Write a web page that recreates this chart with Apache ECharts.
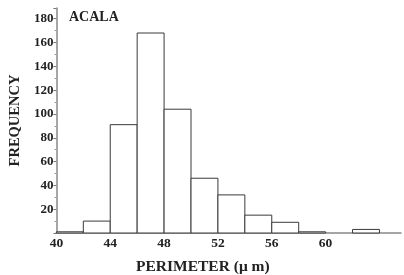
<!DOCTYPE html>
<html>
<head>
<meta charset="utf-8">
<script src="https://cdn.jsdelivr.net/npm/echarts@6/dist/echarts.min.js"></script>
<style>
  html, body { margin: 0; padding: 0; background: #fff; }
  #chart { width: 404px; height: 275px; }
</style>
</head>
<body>
<div id="chart"></div>
<script>
// histogram bins (perimeter, um), each 2 wide
const binStart = [40, 42, 44, 46, 48, 50, 52, 54, 56, 58, 60, 62]
const binWidth = 2
const frequency = [1, 10, 91, 168, 104, 46, 32, 15, 9, 1, 0, 3]
const xTicks = [40, 44, 48, 52, 56, 60]

const serif = '"Liberation Serif", "DejaVu Serif", serif'
const ink = '#3a3a3a'

const chart = echarts.init(document.getElementById('chart'))

chart.setOption({
  animation: false,
  title: [{
    text: 'ACALA',
    left: 64,
    top: 5,
    textStyle: { fontFamily: serif, fontWeight: 'bold', fontSize: 14, color: '#222' }
  }, {
    text: 'PERIMETER (μ m)',
    left: 131,
    top: 254,
    textStyle: { fontFamily: serif, fontWeight: 'bold', fontSize: 15.5, color: '#222' }
  }],
  grid: {
    left: 52,
    right: 1,
    top: 8,
    bottom: 42
  },
  xAxis: {
    type: 'value',
    min: 40,
    max: 65.6,
    interval: 4,
    axisLine: { lineStyle: { color: '#888', width: 1.5 } },
    axisTick: { show: false },
    splitLine: { show: false },
    axisLabel: {
      margin: 4,
      fontFamily: serif,
      fontWeight: 'bold',
      fontSize: 13.5,
      color: '#222',
      formatter: function(v) {
        return xTicks.indexOf(v) >= 0 ? String(v) : ''
      }
    }
  },
  yAxis: {
    type: 'value',
    min: 0,
    max: 189,
    interval: 20,
    name: 'FREQUENCY',
    nameLocation: 'middle',
    nameRotate: 90,
    nameGap: 30,
    nameTextStyle: { fontFamily: serif, fontWeight: 'bold', fontSize: 14.5, color: '#222' },
    axisLine: { show: true, lineStyle: { color: '#888', width: 1.5 } },
    axisTick: { show: true, inside: false, length: 3, lineStyle: { color: '#777' } },
    minorTick: { show: true, splitNumber: 2, length: 2, lineStyle: { color: '#999' } },
    splitLine: { show: false },
    axisLabel: {
      margin: 3,
      fontFamily: serif,
      fontWeight: 'bold',
      fontSize: 13,
      color: '#222',
      formatter: function(v) {
        return v === 0 ? '' : String(v)
      }
    }
  },
  series: [{
    type: 'custom',
    renderItem: function(params, api) {
      const x0 = api.value(0)
      const h = api.value(1)
      if (!h) return
      const p0 = api.coord([x0, 0])
      const p1 = api.coord([x0 + binWidth, h])
      return {
        type: 'rect',
        shape: { x: p0[0], y: p1[1], width: p1[0] - p0[0], height: p0[1] - p1[1] },
        style: { fill: '#fff', stroke: ink, lineWidth: 1 }
      }
    },
    encode: { x: 0, y: 1 },
    data: binStart.map(function(s, i) { return [s, frequency[i]] })
  }]
})
</script>
</body>
</html>
